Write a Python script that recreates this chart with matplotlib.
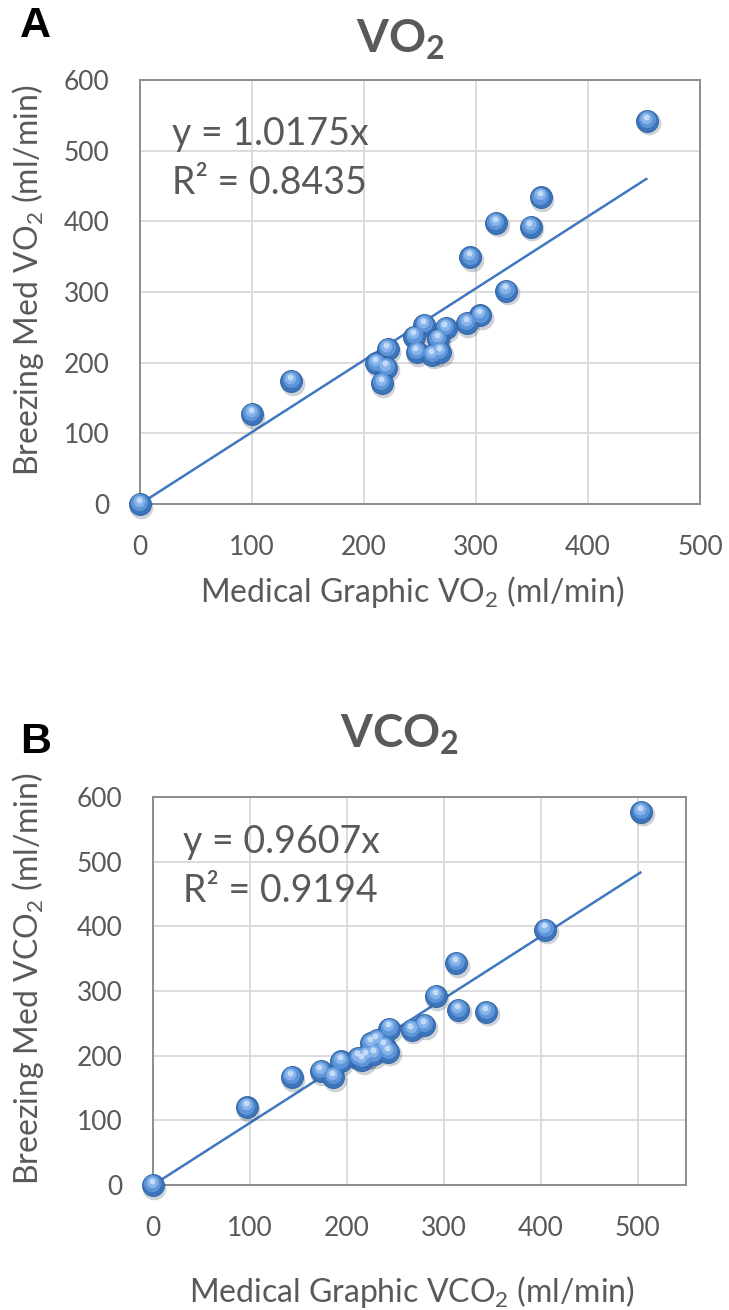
import matplotlib
matplotlib.use("Agg")
import matplotlib.pyplot as plt
from matplotlib.transforms import offset_copy
import numpy as np

# ---------------- data ----------------
vo2_mg = [0, 100, 135, 453, 358, 318, 349, 295, 327, 304, 292, 273, 254, 245,
          266, 247, 261, 268, 221, 211, 220, 216]
vo2_bz = [0, 127, 174, 542, 434, 398, 392, 349, 302, 267, 256, 249, 253, 237,
          233, 215, 211, 215, 219, 199, 193, 171]
vo2_slope = 1.0175
vo2_r2 = 0.8435

vco2_mg = [0, 97, 143, 173, 186, 194, 212, 216, 220, 228, 225, 231, 239, 243,
           244, 267, 280, 292, 313, 315, 344, 405, 504]
vco2_bz = [0, 120, 167, 176, 167, 191, 197, 193, 200, 202, 219, 224, 214, 206,
           242, 240, 247, 292, 343, 271, 268, 395, 577]
vco2_slope = 0.9607
vco2_r2 = 0.9194

ticks = [0, 100, 200, 300, 400, 500, 600]
xticks = [0, 100, 200, 300, 400, 500]

# ---------------- style ----------------
plt.rcParams['font.family'] = ['Lato', 'DejaVu Sans']
plt.rcParams['mathtext.fontset'] = 'custom'
plt.rcParams['mathtext.rm'] = 'Lato'
plt.rcParams['mathtext.it'] = 'Lato:italic'
plt.rcParams['mathtext.bf'] = 'Lato:bold'

GRAY = '#595959'
W, H = 729, 1310
fig = plt.figure(figsize=(W / 100, H / 100), dpi=100)
fig.patch.set_facecolor('white')


def fx(px):
    return px / W


def fy(py):
    return 1 - py / H


def panel(rect, xs, ys, slope, r2, xmax, title, letter, xlab, ylab,
          title_y, letter_y, eq_pos, xlab_y):
    l, t, r, b = rect
    ax = fig.add_axes([fx(l), fy(b), fx(r) - fx(l), fy(t) - fy(b)])
    ax.set_xlim(0, xmax)
    ax.set_ylim(0, 600)
    ax.set_xticks(xticks)
    ax.set_yticks(ticks)
    ax.grid(True, color='#d9d9d9', linewidth=1.3)
    ax.set_axisbelow(True)
    for s in ax.spines.values():
        s.set_color('#8c8c8c')
        s.set_linewidth(1.4)
    ax.tick_params(length=0, labelsize=19, labelcolor=GRAY, pad=22)

    # trendline
    xm = max(xs)
    ax.plot([0, xm], [0, slope * xm], color='#3f78c1', linewidth=1.8,
            zorder=3, solid_capstyle='butt')

    # sphere-like markers
    sh = offset_copy(ax.transData, fig=fig, x=1.0, y=-1.8, units='points')
    ax.scatter(xs, ys, s=290, color='#1f3350', alpha=0.22, linewidths=0,
               transform=sh, zorder=4, clip_on=False)
    ax.scatter(xs, ys, s=250, color='#3d75bd', edgecolors='#2f5f9c',
               linewidths=0.6, zorder=5, clip_on=False)
    mid = offset_copy(ax.transData, fig=fig, x=-0.5, y=1.3, units='points')
    ax.scatter(xs, ys, s=150, color='#5d95d8', linewidths=0,
               transform=mid, zorder=6, clip_on=False)
    mid2 = offset_copy(ax.transData, fig=fig, x=-0.8, y=2.2, units='points')
    ax.scatter(xs, ys, s=70, color='#86b4ea', linewidths=0,
               transform=mid2, zorder=7, clip_on=False)
    hl = offset_copy(ax.transData, fig=fig, x=-1.0, y=3.0, units='points')
    ax.scatter(xs, ys, s=18, color='#c3dbf6', linewidths=0,
               transform=hl, zorder=8, clip_on=False)

    ax.text(eq_pos[0], eq_pos[1], 'y = %.4fx' % slope, transform=ax.transAxes,
            fontsize=27, color=GRAY, va='center', ha='left')
    ax.text(eq_pos[0], eq_pos[2], 'R² = %.4f' % r2, transform=ax.transAxes,
            fontsize=27, color=GRAY, va='center', ha='left')

    fig.text(fx(400), fy(title_y), title, fontsize=33, color=GRAY,
             ha='center', va='center', fontweight='bold')
    fig.text(fx(20), fy(letter_y), letter, fontsize=31, color='black',
             ha='left', va='center', fontweight='bold',
             family=['Liberation Sans', 'DejaVu Sans'])
    fig.text(fx(412), fy(xlab_y), xlab, fontsize=23, color=GRAY,
             ha='center', va='center')
    fig.text(fx(28), fy((t + b) / 2 - 12), ylab, fontsize=23, color=GRAY,
             ha='center', va='center', rotation=90)
    return ax


panel((140, 80, 700, 504), vo2_mg, vo2_bz, vo2_slope, vo2_r2, 500,
      r'$\mathbf{VO}_{\mathbf{2}}$', 'A',
      r'Medical Graphic VO$_{2}$ (ml/min)', r'Breezing Med VO$_{2}$ (ml/min)',
      title_y=40, letter_y=26, eq_pos=(0.058, 0.872, 0.757), xlab_y=592)

panel((153, 797, 686, 1185), vco2_mg, vco2_bz, vco2_slope, vco2_r2, 550,
      r'$\mathbf{VCO}_{\mathbf{2}}$', 'B',
      r'Medical Graphic VCO$_{2}$ (ml/min)', r'Breezing Med VCO$_{2}$ (ml/min)',
      title_y=735, letter_y=742, eq_pos=(0.056, 0.885, 0.757), xlab_y=1292)

fig.savefig('out.png', dpi=100)
